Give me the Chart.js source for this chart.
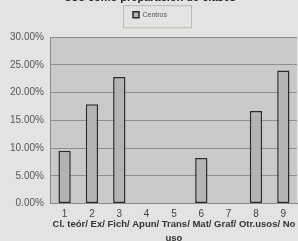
<!DOCTYPE html>
<html>
<head>
<meta charset="utf-8">
<script src="https://cdn.jsdelivr.net/npm/chart.js@4"></script>
<style>
  html, body { margin: 0; padding: 0; background: #e3e3e1; overflow: hidden; }
  #wrap { position: absolute; left: 0; top: -9px; width: 298px; height: 254px; }
</style>
</head>
<body>
<div id="wrap"><canvas id="myChart" width="298" height="254"></canvas></div>
<script>
const categories = ['1', '2', '3', '4', '5', '6', '7', '8', '9'];
const centros = [9.5, 17.9, 22.8, 0, 0, 8.2, 0, 16.7, 24.0];
const yTicks = [0, 5, 10, 15, 20, 25, 30];
const xTitle = ['Cl. teór/ Ex/ Fich/ Apun/ Trans/ Mat/ Graf/ Otr.usos/ No', 'uso'];

const legendGap = 9;

// push the plot down below the legend and draw the legend frame
const legendBox = {
    id: 'legendBox',
    beforeInit(chart) {
        const fit = chart.legend.fit;
        chart.legend.fit = function () {
            fit.bind(chart.legend)();
            this.height += legendGap;
        };
    },
    afterDraw(chart) {
        const l = chart.legend;
        const c = chart.ctx;
        c.save();
        c.strokeStyle = '#b9b9b7';
        c.lineWidth = 1;
        c.strokeRect(123.5, l.top + 0.5, 68, l.height - legendGap - 1);
        c.restore();
    }
};

const plotBg = {
    id: 'plotBg',
    beforeDraw(chart) {
        const a = chart.chartArea;
        const c = chart.ctx;
        c.save();
        c.fillStyle = '#c9c9c7';
        c.fillRect(a.left, a.top, a.right - a.left, a.bottom - a.top);
        c.restore();
    }
};

const ctx = document.getElementById('myChart');

new Chart(ctx, {
    type: 'bar',
    data: {
        labels: categories,
        datasets: [{
            label: 'Centros',
            data: centros,
            backgroundColor: '#b4b4b2',
            borderColor: '#2b2b2b',
            borderWidth: 1.5,
            borderSkipped: false,
            barPercentage: 1,
            categoryPercentage: 0.45
        }]
    },
    options: {
        responsive: false,
        animation: false,
        layout: { padding: { left: 3, right: 1, top: 0, bottom: 0 } },
        plugins: {
            title: {
                display: true,
                text: 'Uso como preparación de clases',
                color: '#222',
                font: { family: 'Liberation Sans', size: 11, weight: 'bold' },
                padding: { top: 0, bottom: 1 }
            },
            legend: {
                display: true,
                labels: {
                    color: '#555',
                    font: { family: 'Liberation Sans', size: 7 },
                    boxWidth: 6,
                    boxHeight: 6,
                    padding: 6
                }
            },
            tooltip: { enabled: false }
        },
        scales: {
            x: {
                grid: { display: false, drawTicks: false },
                border: { color: '#8a8a8a' },
                ticks: {
                    color: '#444',
                    font: { family: 'Liberation Sans', size: 10, lineHeight: 1 },
                    padding: 6
                },
                title: {
                    display: true,
                    text: xTitle,
                    color: '#333',
                    font: { family: 'Liberation Sans', size: 9.5, weight: 'bold', lineHeight: 1.55 },
                    padding: { top: -9, bottom: -1 }
                }
            },
            y: {
                min: 0,
                max: 30,
                afterBuildTicks(axis) {
                    axis.ticks = yTicks.map(v => ({ value: v }));
                },
                grid: { color: '#8e8e8c', lineWidth: 1, drawTicks: false },
                border: { color: '#8a8a8a' },
                ticks: {
                    color: '#555',
                    font: { family: 'Liberation Sans', size: 10 },
                    padding: 7,
                    callback: v => v.toFixed(2) + '%'
                }
            }
        }
    },
    plugins: [legendBox, plotBg]
});
</script>
</body>
</html>
